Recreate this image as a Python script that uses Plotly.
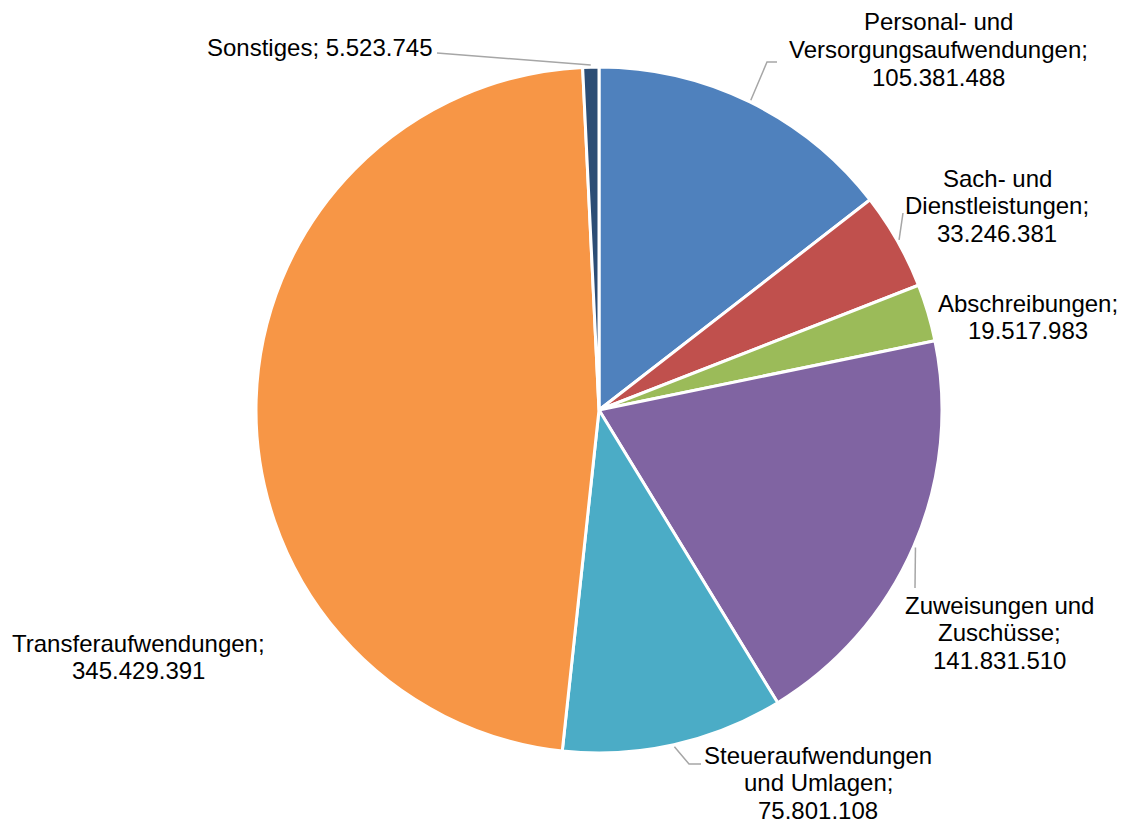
import numpy as np
import plotly.graph_objects as go

# ---- data ----
categories = [
    "Personal- und Versorgungsaufwendungen",
    "Sach- und Dienstleistungen",
    "Abschreibungen",
    "Zuweisungen und Zuschüsse",
    "Steueraufwendungen und Umlagen",
    "Transferaufwendungen",
    "Sonstiges",
]
values = [105381488, 33246381, 19517983, 141831510, 75801108, 345429391, 5523745]
label_lines = [
    ["Personal- und", "Versorgungsaufwendungen;"],
    ["Sach- und", "Dienstleistungen;"],
    ["Abschreibungen;"],
    ["Zuweisungen und", "Zuschüsse;"],
    ["Steueraufwendungen", "und Umlagen;"],
    ["Transferaufwendungen;"],
    ["Sonstiges;"],
]
colors = ["#4F81BD", "#C0504D", "#9BBB59", "#8064A2", "#4BACC6", "#F79646", "#2C4D75"]

# ---- layout ----
W, H = 1122, 824
CX, CY, R = 599, 410, 343
dom_x = [(CX - R) / W, (CX + R) / W]
dom_y = [(H - CY - R) / H, (H - CY + R) / H]

def fmt(v):
    return f"{v:,}".replace(",", ".")

# label placement (pixel): center x, first line y
label_pos = [
    (938, 22), (997, 178), (1028, 303), (999, 605), (818, 755), (138, 643), (320, 47),
]
LINE_H = 27.5
# leader line tail points (pixel) after the slice-edge point; None = no leader
leader_tail = [
    [(767, 62), (777, 62)],
    [(903, 213)],
    None,
    [(915, 588)],
    [(689, 764), (701, 764)],
    None,
    [(437, 53)],
]

FONT = "Arial, 'Liberation Sans', sans-serif"

fig = go.Figure(go.Pie(
    labels=categories, values=values, sort=False, direction="clockwise", rotation=0,
    marker=dict(colors=colors, line=dict(color="white", width=3)),
    textinfo="none", showlegend=False, domain=dict(x=dom_x, y=dom_y),
))

def px2paper(x, y):
    return x / W, 1 - y / H

annotations = []
for i, (lines, (cx, y0)) in enumerate(zip(label_lines, label_pos)):
    if i == 6:
        all_lines = [lines[0] + " " + fmt(values[i])]
    else:
        all_lines = lines + [fmt(values[i])]
    for k, t in enumerate(all_lines):
        px, py = px2paper(cx, y0 + k * LINE_H)
        annotations.append(dict(
            x=px, y=py, xref="paper", yref="paper", text=t, showarrow=False,
            xanchor="center", yanchor="middle", borderpad=0,
            font=dict(family=FONT, size=24, color="#000000"),
        ))

total = sum(values)
cum = np.cumsum([0] + values)
shapes = []
for i, tail in enumerate(leader_tail):
    if tail is None:
        continue
    mid = (cum[i] + cum[i + 1]) / 2 / total * 2 * np.pi
    sx = CX + (R + 2) * np.sin(mid)
    sy = CY - (R + 2) * np.cos(mid)
    pts = [(sx, sy)] + tail
    path = "M " + " L ".join(f"{px2paper(x, y)[0]:.5f},{px2paper(x, y)[1]:.5f}" for x, y in pts)
    shapes.append(dict(type="path", path=path, xref="paper", yref="paper",
                       line=dict(color="#A6A6A6", width=1.5)))

fig.update_layout(
    width=W, height=H, margin=dict(l=0, r=0, t=0, b=0),
    paper_bgcolor="white", plot_bgcolor="white",
    annotations=annotations, shapes=shapes,
)

fig.write_html("out.html", config={"displayModeBar": False},
               post_script="document.body.style.margin='0';document.body.style.overflow='hidden';")
